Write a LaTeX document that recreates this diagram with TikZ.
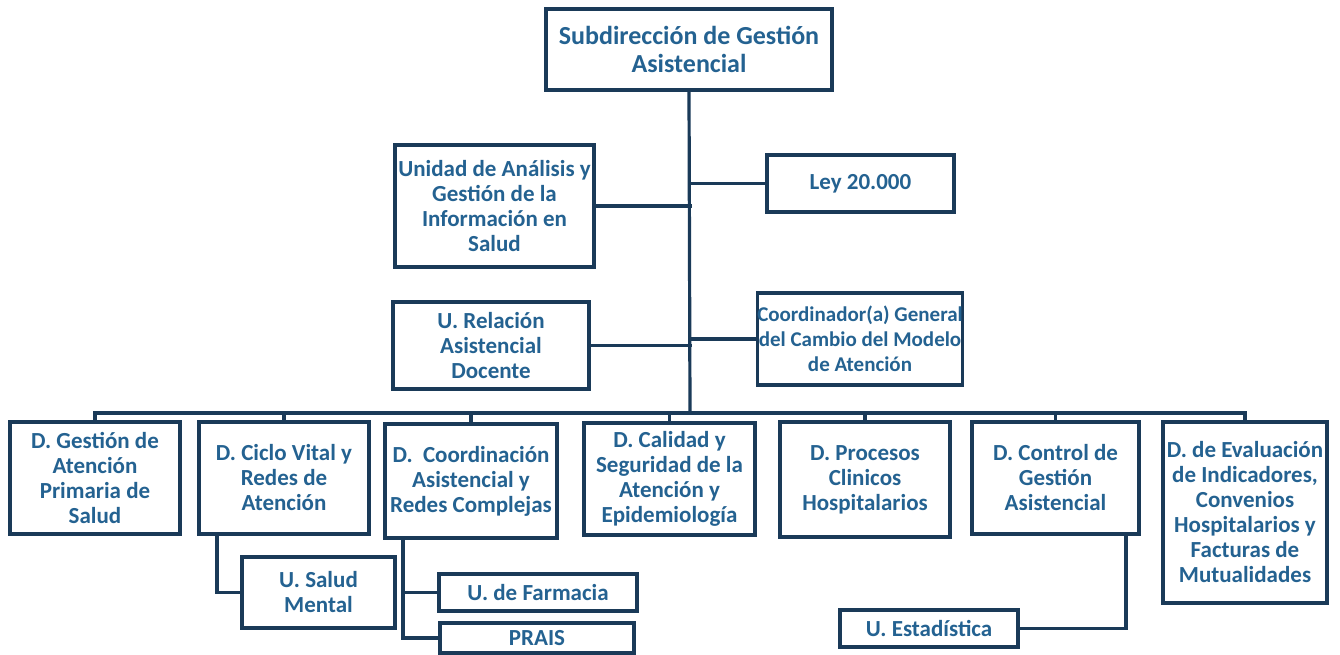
\documentclass[tikz,border=0pt]{standalone}
\usepackage{fontspec}
\setmainfont{Carlito}
\usetikzlibrary{calc}
\definecolor{edge}{RGB}{26,58,88}
\definecolor{txt}{RGB}{36,98,145}
\tikzset{
  x=1pt, y=-1pt,
  box/.style={draw=edge, line width=3.2pt, fill=white, inner sep=0pt, align=center,
    text=txt, font=\fontsize{23}{25}\selectfont\bfseries},
  link/.style={draw=edge, line width=3.2pt, line cap=rect}
}
\begin{document}
\begin{tikzpicture}
\useasboundingbox (0,0) rectangle (1340,655);
\fill[white] (0,0) rectangle (1340,655);
\coordinate (bus) at (690,413);
% connectors first, boxes drawn over them
\coordinate (c1) at (217,536);
\coordinate (c2) at (403,540);
\coordinate (c3) at (1126,536);
% top and middle level
\node[box, minimum width=286, minimum height=81, font=\fontsize{26}{28}\selectfont\bfseries] (top) at (689,49.5) {Subdirección de Gestión\\Asistencial};
\node[box, minimum width=199, minimum height=122] (unidad) at (494.5,206) {Unidad de Análisis y\\Gestión de la\\Información en\\Salud};
\node[box, minimum width=187, minimum height=57] (ley) at (860.5,183.5) {Ley 20.000};
\node[box, minimum width=196, minimum height=87] (relacion) at (491,345.5) {U. Relación\\Asistencial\\Docente};
\node[box, minimum width=196, minimum height=92, font=\fontsize{21}{25}\selectfont\bfseries] (coord) at (860,339) {Coordinador(a) General\\del Cambio del Modelo\\de Atención};
% departments
\node[box, minimum width=170, minimum height=112] (dges) at (95,478) {D. Gestión de\\Atención\\Primaria de\\Salud};
\node[box, minimum width=170, minimum height=112] (dciclo) at (284,478) {D. Ciclo Vital y\\Redes de\\Atención};
\node[box, minimum width=172, minimum height=114] (dcoord) at (471,481) {D.\ \ Coordinación\\Asistencial y\\Redes Complejas};
\node[box, minimum width=171, minimum height=112] (dcal) at (669.5,479) {D. Calidad y\\Seguridad de la\\Atención y\\Epidemiología};
\node[box, minimum width=170, minimum height=115] (dproc) at (865,479.5) {D. Procesos\\Clinicos\\Hospitalarios};
\node[box, minimum width=167, minimum height=112] (dcontrol) at (1055.5,478) {D. Control de\\Gestión\\Asistencial};
\node[box, minimum width=164, minimum height=181] (deval) at (1245,512.5) {D. de Evaluación\\de Indicadores,\\Convenios\\Hospitalarios y\\Facturas de\\Mutualidades};
% units
\node[box, minimum width=153, minimum height=71] (salud) at (318.5,592.5) {U. Salud\\Mental};
\node[box, minimum width=198, minimum height=37] (farm) at (538,592.5) {U. de Farmacia};
\node[box, minimum width=194, minimum height=30] (prais) at (537,638) {PRAIS};
\node[box, minimum width=178, minimum height=37] (estad) at (929,628.5) {U. Estadística};
% connectors
\draw[link] (top.south) -- (bus);
\draw[link] (unidad.east) -- (unidad.east -| bus);
\draw[link] (ley.west) -- (ley.west -| bus);
\draw[link] (relacion.east) -- (relacion.east -| bus);
\draw[link] (coord.west) -- (coord.west -| bus);
\draw[link] (dges.north |- bus) -- (deval.north |- bus);
\foreach \n in {dges,dciclo,dcoord,dcal,dproc,dcontrol,deval}
  \draw[link] (\n.north) -- (\n.north |- bus);
\draw[link] (dciclo.south -| c1) |- (salud.west);
\draw[link] (dcoord.south -| c2) |- (farm.west);
\draw[link] (dcoord.south -| c2) |- (prais.west);
\draw[link] (dcontrol.south -| c3) |- (estad.east);
\end{tikzpicture}
\end{document}
